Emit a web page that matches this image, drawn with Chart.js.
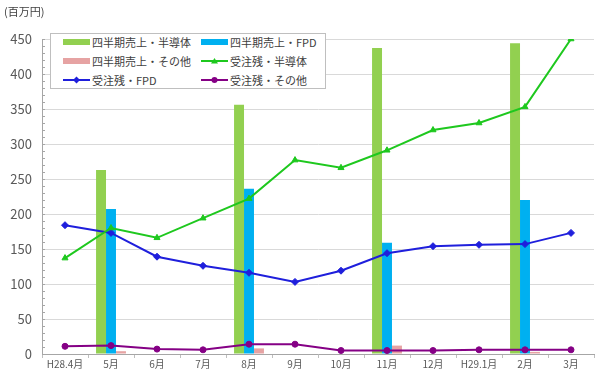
<!DOCTYPE html>
<html><head><meta charset="utf-8">
<script src="https://cdn.jsdelivr.net/npm/chart.js@4"></script>
<style>
html,body{margin:0;padding:0;background:#fff;}
#wrap{position:relative;width:600px;height:374px;font-family:"Noto Sans CJK JP","Noto Sans",sans-serif;}
#c{position:absolute;left:0;top:0;}
#unit{position:absolute;left:4px;top:3px;font-size:11px;color:#404040;}
#legend{position:absolute;left:50px;top:33px;width:274px;height:54px;border:1px solid #bfbfbf;background:#fff;}
.li{position:absolute;display:flex;align-items:center;font-size:11px;color:#404040;height:16px;white-space:nowrap;}
.li svg{margin-right:2px;}
</style></head>
<body><div id="wrap"><canvas id="c" width="600" height="374"></canvas><div id="unit">(百万円)</div><div id="legend"></div></div>
<script>
const categories = ["H28.4月","5月","6月","7月","8月","9月","10月","11月","12月","H29.1月","2月","3月"];
const salesSemi  = [null,263,null,null,356,null,null,437,null,null,444,null];
const salesFPD   = [null,207,null,null,236,null,null,159,null,null,220,null];
const salesOther = [null,4,null,null,8,null,null,12,null,null,3,null];
const backlogSemi  = [137,180,166,194,222,277,266,291,320,330,353,450];
const backlogFPD   = [184,173,139,126,116,103,119,144,154,156,157,173];
const backlogOther = [11,12,7,6,14,14,5,5,5,6,6,6];
const yTicks = [0,50,100,150,200,250,300,350,400,450];

const datasets = [
 {type:'bar',label:'四半期売上・半導体',data:salesSemi,backgroundColor:'#92d050',order:2},
 {type:'bar',label:'四半期売上・FPD',data:salesFPD,backgroundColor:'#00b0f0',order:2},
 {type:'bar',label:'四半期売上・その他',data:salesOther,backgroundColor:'#e6a3a3',order:2},
 {type:'line',label:'受注残・半導体',data:backlogSemi,borderColor:'#1ec81e',backgroundColor:'#1ec81e',borderWidth:2,pointStyle:'triangle',pointRadius:3.5,order:1},
 {type:'line',label:'受注残・FPD',data:backlogFPD,borderColor:'#1f1fdc',backgroundColor:'#1f1fdc',borderWidth:2,pointStyle:'rectRot',pointRadius:3.5,order:1},
 {type:'line',label:'受注残・その他',data:backlogOther,borderColor:'#850085',backgroundColor:'#850085',borderWidth:2,pointStyle:'circle',pointRadius:3,order:1}
];
datasets.forEach(d=>{ if(d.type==='bar'){d.categoryPercentage=0.65;d.barPercentage=1.0;} else {d.tension=0;d.fill=false;d.pointBorderWidth=1;} });

const minorTicks = {
  id:'minorTicks',
  afterDraw(chart){
    const y=chart.scales.y, ctx=chart.ctx;
    ctx.save();ctx.strokeStyle='#a6a6a6';ctx.lineWidth=1;
    for(let v=0; v<=450; v+=10){
      const py=Math.round(y.getPixelForValue(v))+0.5;
      ctx.beginPath();ctx.moveTo(y.right,py);ctx.lineTo(y.right+3,py);ctx.stroke();
    }
    ctx.restore();
  }
};

const chart = new Chart(document.getElementById('c'),{
  data:{labels:categories,datasets:datasets},
  options:{
    responsive:false,animation:false,
    layout:{padding:{top:39,right:6,left:0,bottom:0}},
    plugins:{legend:{display:false},tooltip:{enabled:false}},
    scales:{
      x:{offset:true,
         grid:{display:true,offset:true,drawOnChartArea:false,tickLength:4,color:'#bfbfbf'},
         border:{color:'#a6a6a6'},
         ticks:{font:{size:10,family:'"Noto Sans CJK JP"'},color:'#595959',padding:0,maxRotation:0,autoSkip:false},
         afterFit(s){s.height=20;}},
      y:{min:0,max:450,
         afterBuildTicks(s){s.ticks=yTicks.map(v=>({value:v}));},
         grid:{color:'#d9d9d9',drawTicks:false},
         border:{color:'#a6a6a6'},
         ticks:{font:{size:13,family:'"Noto Sans CJK JP"'},color:'#595959',padding:10},
         afterFit(s){s.width=42;}}
    }
  },
  plugins:[minorTicks]
});

// HTML legend built from datasets
const pos = [[12,0],[150,0],[12,19],[150,19],[12,38],[150,38]];
const lg = document.getElementById('legend');
datasets.forEach((d,i)=>{
  const el=document.createElement('div');el.className='li';
  el.style.left=pos[i][0]+'px';el.style.top=(pos[i][1]+0)+'px';
  let svg;
  if(d.type==='bar'){
    svg=`<svg width="27" height="16"><rect x="0" y="5" width="27" height="6" fill="${d.backgroundColor}"/></svg>`;
  } else {
    let m='';
    if(d.pointStyle==='triangle') m=`<polygon points="13.5,5 17,10.5 10,10.5" fill="${d.borderColor}"/>`;
    else if(d.pointStyle==='rectRot') m=`<polygon points="13.5,4.5 17,8 13.5,11.5 10,8" fill="${d.borderColor}"/>`;
    else m=`<circle cx="13.5" cy="8" r="3" fill="${d.borderColor}"/>`;
    svg=`<svg width="27" height="16"><line x1="0" y1="8" x2="27" y2="8" stroke="${d.borderColor}" stroke-width="2"/>${m}</svg>`;
  }
  el.innerHTML=svg+'<span>'+d.label+'</span>';
  lg.appendChild(el);
});
</script></body></html>
